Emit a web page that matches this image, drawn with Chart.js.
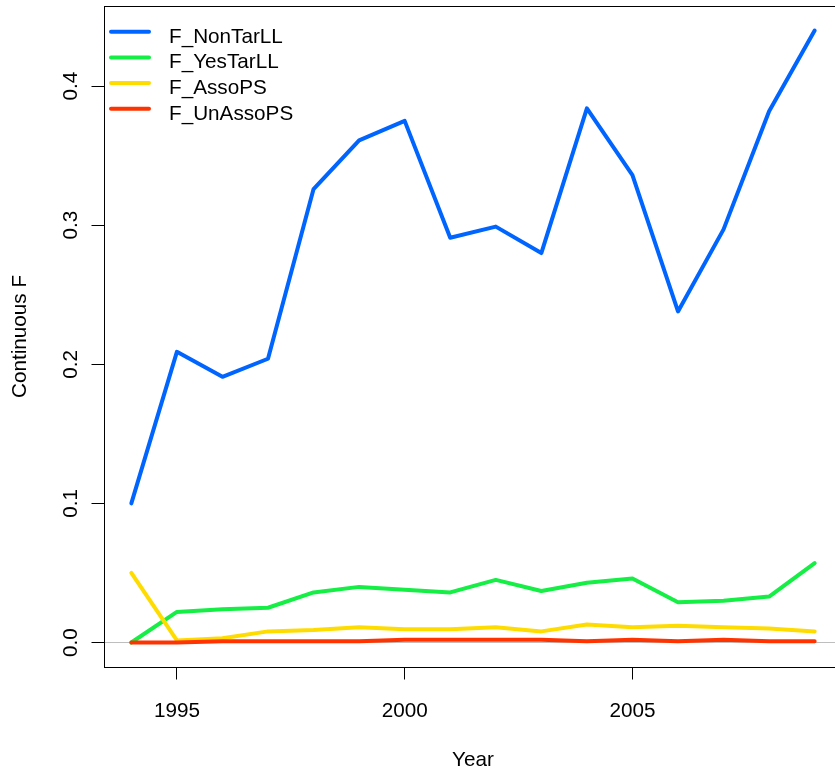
<!DOCTYPE html>
<html>
<head>
<meta charset="utf-8">
<script src="https://cdn.jsdelivr.net/npm/chart.js@4.4.1/dist/chart.umd.min.js"></script>
<style>
  html, body { margin: 0; padding: 0; overflow: hidden; background: #fff; }
  #wrap { width: 835px; height: 778px; overflow: hidden; }
  canvas { display: block; }
</style>
</head>
<body>
<div id="wrap"><canvas id="c" width="845" height="778" style="width:845px;height:778px"></canvas></div>
<script>
// ---- data ----
const years = [1994,1995,1996,1997,1998,1999,2000,2001,2002,2003,2004,2005,2006,2007,2008,2009];
const F_NonTarLL = [0.100,0.209,0.191,0.204,0.326,0.361,0.375,0.291,0.299,0.280,0.384,0.336,0.238,0.297,0.382,0.440];
const F_YesTarLL = [0.000,0.022,0.024,0.025,0.036,0.040,0.038,0.036,0.045,0.037,0.043,0.046,0.029,0.030,0.033,0.057];
const F_AssoPS   = [0.050,0.0015,0.003,0.008,0.009,0.011,0.0095,0.0095,0.011,0.008,0.013,0.011,0.012,0.011,0.010,0.008];
const F_UnAssoPS = [0.000,0.000,0.001,0.001,0.001,0.001,0.002,0.002,0.002,0.002,0.001,0.002,0.001,0.002,0.001,0.001];
const seriesNames = ['F_NonTarLL','F_YesTarLL','F_AssoPS','F_UnAssoPS'];
const xTicks = [1995, 2000, 2005];
const yTicks = [0.0, 0.1, 0.2, 0.3, 0.4];
const xMin = 1993.4, xMax = 2009.6;
const yMin = -0.0176, yMax = 0.4576;

const colors = ['#0064FF', '#15EE44', '#FFDC00', '#FF3300'];
const FONT = 'Liberation Sans, Arial, Helvetica, sans-serif';
const FS = 20.7;

const allSeries = [F_NonTarLL, F_YesTarLL, F_AssoPS, F_UnAssoPS];
const datasets = allSeries.map((s, i) => ({
  label: seriesNames[i],
  data: years.map((y, j) => ({x: y, y: s[j]})),
  borderColor: colors[i],
  backgroundColor: colors[i],
  borderWidth: 4,
  pointRadius: 0,
  tension: 0,
  fill: false,
  borderCapStyle: 'round',
  borderJoinStyle: 'round',
  order: 4 - i,
  clip: false
}));
datasets.push({
  label: '_zero',
  data: [{x: xMin, y: 0}, {x: xMax, y: 0}],
  borderColor: '#BEBEBE',
  borderWidth: 1,
  pointRadius: 0,
  order: 10
});

const boxPlugin = {
  id: 'box',
  afterDraw(chart) {
    const {ctx, chartArea: a} = chart;
    ctx.save();
    ctx.strokeStyle = '#000';
    ctx.lineWidth = 1;
    ctx.strokeRect(Math.round(a.left) + 0.5, Math.round(a.top) + 0.5, a.right - a.left, a.bottom - a.top);
    ctx.restore();
  }
};

const legendPlugin = {
  id: 'rlegend',
  afterDatasetsDraw(chart) {
    const {ctx, chartArea: a} = chart;
    ctx.save();
    ctx.font = FS + 'px ' + FONT;
    ctx.textBaseline = 'alphabetic';
    ctx.textAlign = 'left';
    seriesNames.forEach((name, i) => {
      const ds = chart.data.datasets[i];
      const ly = a.top + 25.7 + i * 25.7;
      ctx.strokeStyle = ds.borderColor;
      ctx.lineWidth = 4;
      ctx.lineCap = 'round';
      ctx.beginPath();
      ctx.moveTo(a.left + 7, ly);
      ctx.lineTo(a.left + 45, ly);
      ctx.stroke();
      ctx.fillStyle = '#000';
      ctx.fillText(ds.label, a.left + 65, ly + 10.8);
    });
    ctx.restore();
  }
};

new Chart(document.getElementById('c'), {
  type: 'line',
  data: { datasets },
  options: {
    responsive: false,
    animation: false,
    devicePixelRatio: 1,
    layout: { padding: { top: 6, right: 3, left: 0, bottom: 0 } },
    plugins: { legend: { display: false }, tooltip: { enabled: false } },
    scales: {
      x: {
        type: 'linear',
        min: xMin, max: xMax,
        afterBuildTicks: s => { s.ticks = xTicks.map(v => ({value: v})); },
        afterFit: s => { s.height = 111; s.paddingLeft = 0; s.paddingRight = 0; },
        grid: { drawOnChartArea: false, drawTicks: true, tickLength: 12.5, tickColor: '#000', lineWidth: 1 },
        border: { display: true, color: '#000', width: 1 },
        ticks: {
          autoSkip: false, maxRotation: 0, minRotation: 0, padding: 19.8,
          color: '#000', font: { family: FONT, size: FS },
          callback: v => String(v)
        },
        title: { display: true, text: 'Year', color: '#000', font: { family: FONT, size: FS }, padding: { top: 0, bottom: 5.6 } }
      },
      y: {
        type: 'linear',
        min: yMin, max: yMax,
        afterBuildTicks: s => { s.ticks = yTicks.map(v => ({value: v})); },
        afterFit: s => { s.width = 104; s.paddingTop = 0; s.paddingBottom = 0; },
        grid: { drawOnChartArea: false, drawTicks: true, tickLength: 12.5, tickColor: '#000', lineWidth: 1 },
        border: { display: true, color: '#000', width: 1 },
        ticks: {
          autoSkip: false, minRotation: 90, maxRotation: 90, padding: 5.6, crossAlign: 'center',
          color: '#000', font: { family: FONT, size: FS },
          callback: v => Number(v).toFixed(1)
        },
        title: { display: true, text: 'Continuous F', color: '#000', font: { family: FONT, size: FS }, padding: { top: 7.6, bottom: 0 } }
      }
    }
  },
  plugins: [boxPlugin, legendPlugin]
});
</script>
</body>
</html>
